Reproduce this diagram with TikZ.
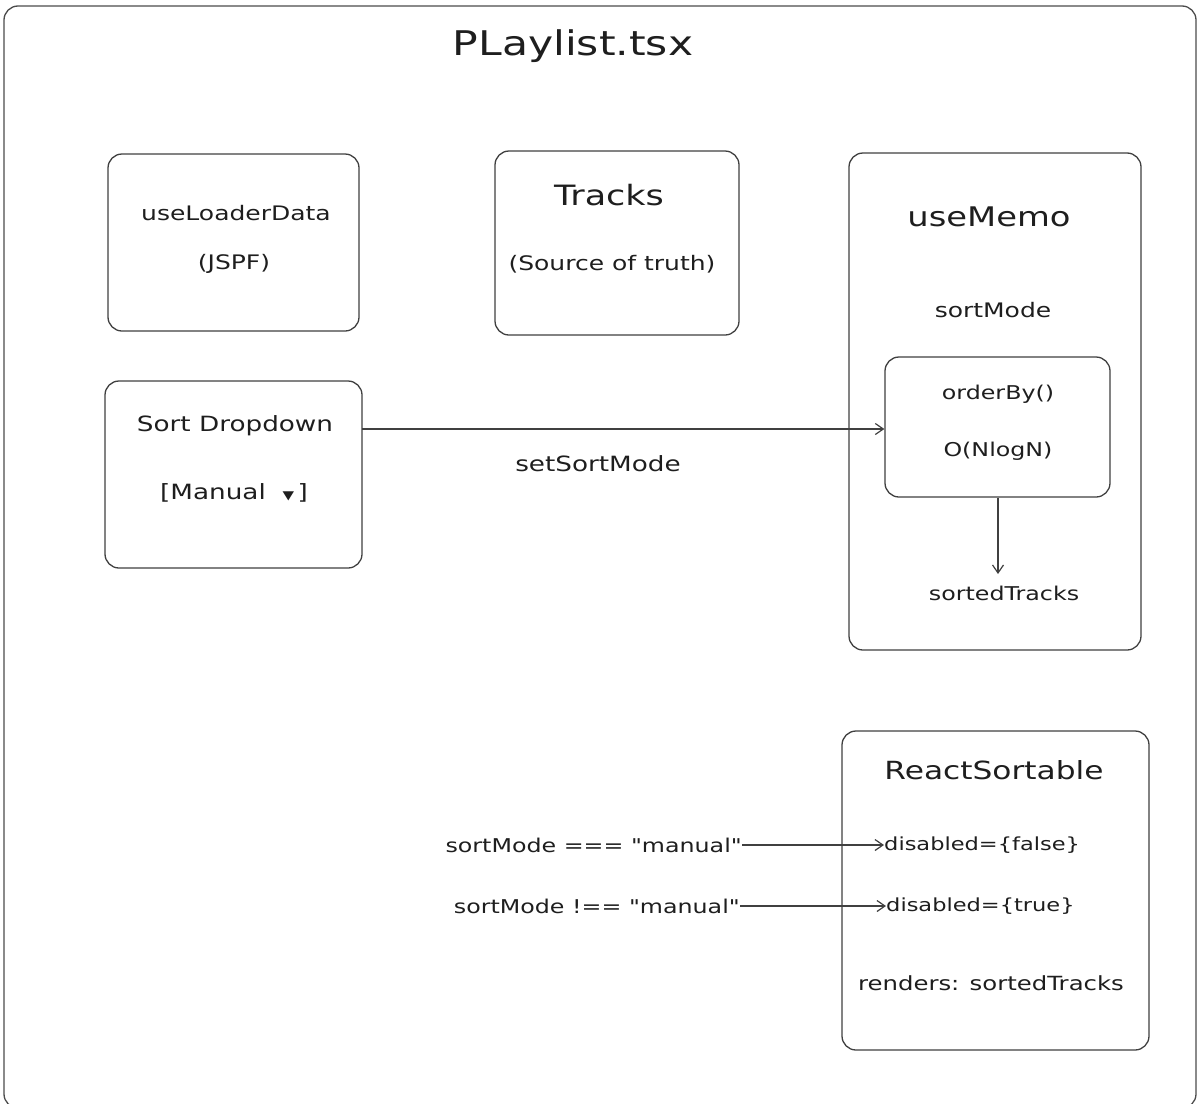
\documentclass[tikz,border=0pt]{standalone}
\usepackage{fontspec}
\newfontfamily\hand[FakeStretch=1.25]{DejaVu Sans}
\usetikzlibrary{arrows.meta}
\definecolor{ink}{HTML}{1E1E1E}
\tikzset{
  box/.style={draw=ink!85, line width=1.3pt, rounded corners=14pt, fill=white},
  lbl/.style={text=ink, inner sep=0pt, font=\hand\fontsize{20}{24}\selectfont},
  big/.style={lbl, font=\hand\fontsize{27}{32}\selectfont},
  conn/.style={draw=ink!85, line width=1.2pt, -{Straight Barb[length=8pt,width=11pt,line width=1.2pt]}},
}
\begin{document}
\begin{tikzpicture}[x=1pt,y=-1pt]
\useasboundingbox (0,0) rectangle (1198,1103);
\draw[ink!80, line width=1.3pt, rounded corners=14pt] (4,6) rectangle (1196,1108);
\node[lbl, font=\hand\fontsize{34}{40}\selectfont] (title) at (573,46) {PLaylist.tsx};

% useLoaderData
\node[box, minimum width=251pt, minimum height=177pt] (ld) at (233.5,242.5) {};
\node[lbl] (ldt) at (236,213) {useLoaderData};
\node[lbl] (ldj) at (234,264) {(JSPF)};

% Tracks
\node[box, minimum width=244pt, minimum height=184pt] (tr) at (617,243) {};
\node[big, font=\hand\fontsize{28}{32}\selectfont] (trt) at (609,195) {Tracks};
\node[lbl] (trs) at (612,264) {(Source of truth)};

% useMemo
\node[box, minimum width=292pt, minimum height=497pt] (um) at (995,401.5) {};
\node[big] (umt) at (989,217) {useMemo};
\node[lbl] (ums) at (993,310) {sortMode};
\node[box, minimum width=225pt, minimum height=140pt] (ob) at (997.5,427) {};
\node[lbl, font=\hand\fontsize{19}{23}\selectfont] (obt) at (998,394) {orderBy()};
\node[lbl, font=\hand\fontsize{19}{23}\selectfont] (obn) at (998,451) {O(NlogN)};
\node[lbl, font=\hand\fontsize{19}{23}\selectfont] (st) at (1004,593) {sortedTracks};
\coordinate (stn) at (998,574);
\draw[conn] (ob.south -| stn) -- (stn);

% Sort dropdown
\node[box, minimum width=257pt, minimum height=187pt] (sd) at (233.5,474.5) {};
\node[lbl, font=\hand\fontsize{21}{25}\selectfont] (sdt) at (235,426) {Sort Dropdown};
\node[lbl, font=\hand\fontsize{21}{25}\selectfont] (sdm) at (234,493) {[Manual\ \ {\fontsize{12}{14}\selectfont ▼}\,]};
\coordinate (sdo) at (362,429);
\draw[conn] (sdo) -- (sdo -| ob.west);
\node[lbl, font=\hand\fontsize{21}{25}\selectfont] (ssm) at (598,464) {setSortMode};

% ReactSortable
\node[box, minimum width=307pt, minimum height=319pt] (rs) at (995.5,890.5) {};
\node[big, font=\hand\fontsize{25}{30}\selectfont] (rst) at (994,770) {ReactSortable};
\node[lbl, font=\hand\fontsize{18}{22}\selectfont, anchor=west] (dfalse) at (884,845) {disabled=\{false\}};
\node[lbl, font=\hand\fontsize{18}{22}\selectfont, anchor=west] (dtrue) at (886,906) {disabled=\{true\}};
\node[lbl, font=\hand\fontsize{19.5}{23}\selectfont] (rnd) at (991,983) {renders: sortedTracks};

\node[lbl, font=\hand\fontsize{19}{23}\selectfont, anchor=east] (eqm) at (742,845) {sortMode === "manual"};
\node[lbl, font=\hand\fontsize{19}{23}\selectfont, anchor=east] (neqm) at (740,906) {sortMode !== "manual"};
\draw[conn] (eqm.east) -- (dfalse.west);
\draw[conn] (neqm.east) -- (dtrue.west);
\end{tikzpicture}
\end{document}
